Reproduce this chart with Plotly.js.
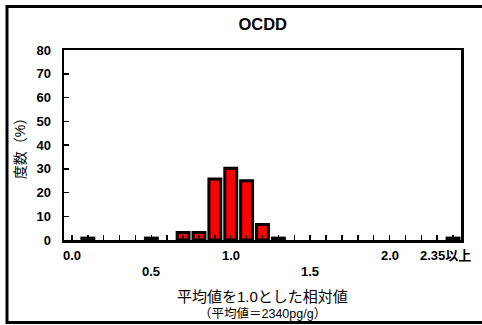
<!DOCTYPE html>
<html>
<head>
<meta charset="utf-8">
<script src="https://cdn.plot.ly/plotly-3.0.1.min.js"></script>
<style>
  html, body { margin: 0; padding: 0; background: #fff; overflow: hidden; }
  #chart { width: 482px; height: 325px; }
</style>
</head>
<body>
<div id="chart"></div>
<script>
// Relative-value bins (value / mean), last bin is open-ended
const categories = ["0.0","0.1","0.2","0.3","0.4","0.5","0.6","0.7","0.8","0.9",
                    "1.0","1.1","1.2","1.3","1.4","1.5","1.6","1.7","1.8","1.9",
                    "2.0","2.1","2.2","2.3","2.35以上"];
// Frequency (%) in each bin
const frequency = [0, 0.8, 0, 0, 0, 0.8, 0, 3.2, 3.2, 25.7,
                   30.2, 25.0, 6.5, 0.8, 0, 0, 0, 0, 0, 0,
                   0, 0, 0, 0, 0.8];
// Labelled bins: first row and staggered second row
const labelsTop = ["0.0", "1.0", "2.0", "2.35以上"];
const labelsLow = ["0.5", "1.5"];
const yTicks = [0, 10, 20, 30, 40, 50, 60, 70, 80];

const latin = "Liberation Sans, Arial, sans-serif";
const cjk = "Liberation Sans, Noto Sans CJK JP, sans-serif";

const annotations = [];
labelsTop.forEach(function (t) {
  annotations.push({
    xref: "x", yref: "paper", x: categories.indexOf(t), y: 0, yanchor: "top",
    yshift: -6, xshift: t === "2.35以上" ? -8 : 0,
    text: "<b>" + t + "</b>", showarrow: false,
    font: { family: cjk, size: 13, color: "#000" }
  });
});
labelsLow.forEach(function (t) {
  annotations.push({
    xref: "x", yref: "paper", x: categories.indexOf(t), y: 0, yanchor: "top", yshift: -22,
    text: "<b>" + t + "</b>", showarrow: false,
    font: { family: latin, size: 13, color: "#000" }
  });
});
annotations.push({
  xref: "paper", yref: "paper", x: 0.5, y: 0, yanchor: "top", yshift: -46,
  text: "平均値を1.0とした相対値", showarrow: false,
  font: { family: cjk, size: 15, color: "#000" }
});
annotations.push({
  xref: "paper", yref: "paper", x: 0.5, y: 0, yanchor: "top", yshift: -64,
  text: "（平均値＝2340pg/g）", showarrow: false,
  font: { family: cjk, size: 12.5, color: "#000" }
});

const trace = {
  type: "bar",
  x: categories,
  y: frequency,
  marker: {
    color: "#ff0000",
    // empty bins get no outline so the baseline stays clean
    line: { color: "#000", width: frequency.map(function (v) { return v > 0 ? 3 : 0; }) }
  },
  hoverinfo: "skip"
};

const layout = {
  width: 482, height: 325,
  margin: { l: 64, r: 21, t: 50, b: 85 },
  paper_bgcolor: "#fff", plot_bgcolor: "#fff",
  showlegend: false,
  bargap: 0.25,
  title: {
    text: "<b>OCDD</b>", x: 0.545, xanchor: "center", y: 0.925, yanchor: "middle",
    font: { family: latin, size: 16.5, color: "#000" }
  },
  xaxis: {
    type: "category",
    categoryorder: "array", categoryarray: categories,
    range: [-0.5, categories.length - 0.5],
    tickmode: "array", tickvals: categories, ticktext: categories.map(function () { return ""; }),
    ticks: "inside", ticklen: 5, tickwidth: 1.5, tickcolor: "#000",
    showline: true, linecolor: "#000", linewidth: 2.5, mirror: true,
    showgrid: false, zeroline: false, fixedrange: true
  },
  yaxis: {
    range: [0, 80],
    tickmode: "array", tickvals: yTicks,
    ticks: "inside", ticklen: 5, tickwidth: 1.5, tickcolor: "#000",
    ticklabelstandoff: 8,
    tickfont: { family: latin, size: 13, color: "#000", weight: "bold" },
    showline: true, linecolor: "#000", linewidth: 2.5, mirror: true,
    showgrid: false, zeroline: false, fixedrange: true,
    title: { text: "度数（%）", standoff: 8, font: { family: cjk, size: 14, color: "#000" } }
  },
  annotations: annotations,
  shapes: [{
    // outer frame around the whole figure (open on the right)
    type: "rect", xref: "paper", yref: "paper",
    x0: (7 - 64) / 397, x1: (495 - 64) / 397,
    y0: (240 - 322.5) / 190, y1: (240 - 6.5) / 190,
    line: { color: "#000", width: 3 }, fillcolor: "rgba(0,0,0,0)", layer: "above"
  }]
};

Plotly.newPlot("chart", [trace], layout, { staticPlot: true, displayModeBar: false });
</script>
</body>
</html>
